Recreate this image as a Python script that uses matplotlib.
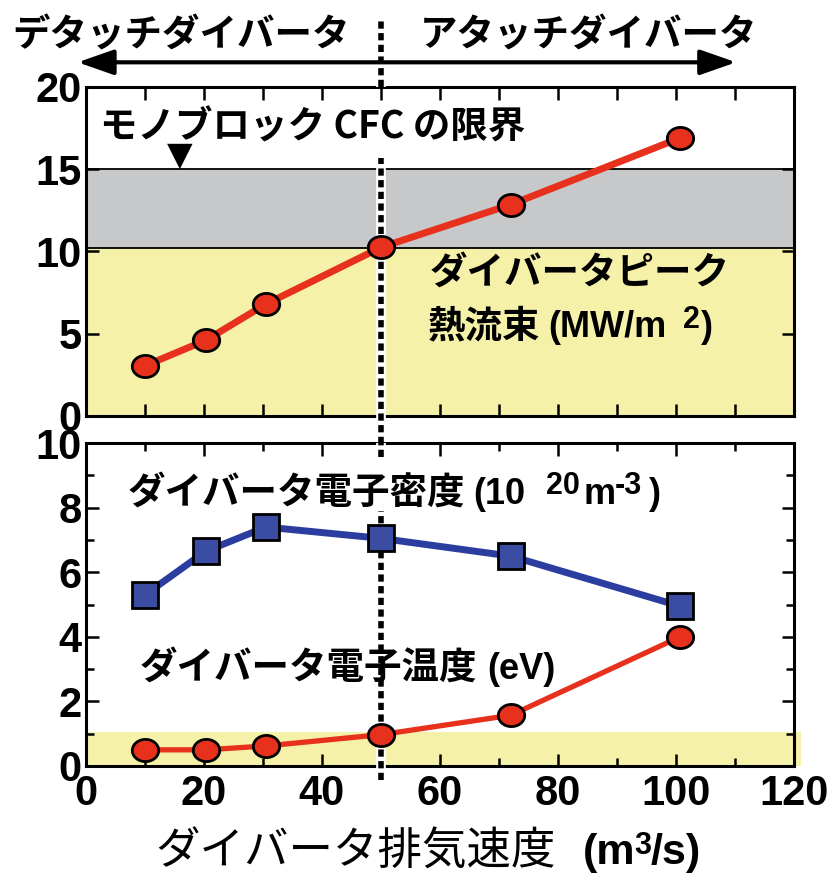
import matplotlib
matplotlib.use("Agg")
import matplotlib.pyplot as plt
from matplotlib.path import Path
from matplotlib.ticker import MultipleLocator
import numpy as np

# pumping speed (m3/s) and the three measured quantities
pump_speed = [10, 20.3, 30.5, 50, 72, 100.7]
peak_heat_flux = [3.05, 4.6, 6.8, 10.25, 12.85, 16.9]      # MW/m2
electron_density = [5.3, 6.65, 7.4, 7.05, 6.5, 4.95]        # 1e20 m-3
electron_temp = [0.5, 0.5, 0.62, 0.97, 1.57, 4.0]           # eV

cfc_limit = [10.2, 15]      # gray band, MW/m2
temp_band = 1.05            # yellow band in lower panel
boundary = 50               # detach / attach boundary

plt.rcParams['font.family'] = ['Noto Sans CJK JP', 'DejaVu Sans']

RED = '#E8311D'
BLUE_LINE = '#2B3EA0'
BLUE_FACE = '#3A4DA3'
YELLOW = '#F5F1A8'
GRAY = '#C7C8CA'

jp = dict(family=['Noto Sans CJK JP'], fontweight='bold', fontsize=27)
lat = dict(family=['Liberation Sans'], fontweight='bold', fontsize=26)
sup = dict(family=['Liberation Sans'], fontweight='bold', fontsize=22)

# slightly flattened circle like the original markers
t = np.linspace(0, 2 * np.pi, 60)
oval = Path(np.column_stack([np.cos(t), 0.84 * np.sin(t)]), closed=True)

fig = plt.figure(figsize=(8.29, 8.75), dpi=100)
ax1 = fig.add_axes([0.1037, 0.5246, 0.854, 0.376])
ax2 = fig.add_axes([0.1037, 0.1246, 0.854, 0.369])


def style(ax):
    for s in ax.spines.values():
        s.set_linewidth(2.2)
    ax.tick_params(which='both', direction='in', width=1.8, top=True, right=True)
    ax.tick_params(which='major', length=9)
    ax.tick_params(which='minor', length=6)
    for lab in ax.get_xticklabels() + ax.get_yticklabels():
        lab.set_family(['Liberation Sans'])
        lab.set_fontweight('bold')
        lab.set_fontsize(30)


def hatch_line(ax, y0, y1):
    tr = ax.get_xaxis_transform()
    ax.plot([boundary, boundary], [y0, y1], transform=tr, color='white', lw=7,
            clip_on=False, zorder=3, solid_capstyle='butt')
    ax.plot([boundary, boundary], [y0, y1], transform=tr, color='black', lw=4,
            ls=(0, (1.3, 0.8)), clip_on=False, zorder=3)


# ---- upper panel: peak heat flux
ax1.axhspan(0, cfc_limit[0], color=YELLOW, zorder=0, lw=0)
ax1.axhspan(cfc_limit[0], cfc_limit[1], color=GRAY, zorder=0, lw=0)
for yl in cfc_limit:
    ax1.axhline(yl, color='black', lw=1.3, zorder=1)
hatch_line(ax1, -0.085, 0.784)
hatch_line(ax1, 1.0, 1.21)
ax1.plot(pump_speed, peak_heat_flux, color=RED, lw=5, zorder=4)
ax1.plot(pump_speed, peak_heat_flux, ls='none', marker=oval, ms=19, mfc=RED,
         mec='black', mew=2, zorder=5)
ax1.set_xlim(0, 120)
ax1.set_ylim(0, 20)
ax1.xaxis.set_major_locator(MultipleLocator(10))
ax1.yaxis.set_major_locator(MultipleLocator(5))
ax1.tick_params(axis='x', labelbottom=False)
ax1.tick_params(axis='y', right=False, pad=3)
style(ax1)

ax1.text(2.4, 16.84, 'モノブロック CFC の限界', va='baseline', **jp)
ax1.text(15.9, 15.85, '▼', ha='center', va='center', fontsize=24,
         family=['DejaVu Sans'])
ax1.text(58.3, 8.02, 'ダイバータピーク', va='baseline', **jp)
ax1.text(58.0, 4.80, '熱流束', va='baseline', **jp)
ax1.text(78.3, 4.80, '(MW/m', va='baseline', **lat)
ax1.text(101.2, 5.35, '2', va='baseline', **sup)
ax1.text(104.3, 4.80, ')', va='baseline', **lat)

# detach / attach header with double arrow
ax1.text(-12.5, 22.43, 'デタッチダイバータ', va='baseline', clip_on=False, **jp)
ax1.text(56.6, 22.43, 'アタッチダイバータ', va='baseline', clip_on=False, **jp)
ax1.annotate('', xy=(-1.4, 21.5), xytext=(110.2, 21.5), annotation_clip=False,
             arrowprops=dict(arrowstyle='<|-|>,head_length=1.0,head_width=0.35',
                             mutation_scale=22, lw=3, color='black',
                             shrinkA=0, shrinkB=0))

# ---- lower panel: divertor density and temperature
ax2.axhspan(0, temp_band, xmax=1.01, color=YELLOW, zorder=0, lw=0, clip_on=False)
hatch_line(ax2, 0.957, 1.0)
hatch_line(ax2, -0.043, 0.79)
ax2.plot(pump_speed, electron_density, color=BLUE_LINE, lw=5, zorder=4)
ax2.plot(pump_speed, electron_density, ls='none', marker='s', ms=19, mfc=BLUE_FACE,
         mec='black', mew=2, zorder=5)
ax2.plot(pump_speed, electron_temp, color=RED, lw=3.8, zorder=4)
ax2.plot(pump_speed, electron_temp, ls='none', marker=oval, ms=19, mfc=RED,
         mec='black', mew=2, zorder=5)
ax2.set_xlim(0, 120)
ax2.set_ylim(0, 10)
ax2.xaxis.set_major_locator(MultipleLocator(20))
ax2.xaxis.set_minor_locator(MultipleLocator(10))
ax2.yaxis.set_major_locator(MultipleLocator(2))
ax2.yaxis.set_minor_locator(MultipleLocator(1))
ax2.tick_params(axis='y', pad=3)
ax2.tick_params(axis='x', pad=6)
style(ax2)

ax2.text(7.1, 8.11, 'ダイバータ電子密度', va='baseline', **jp)
ax2.text(65.6, 8.11, '(10', va='baseline', **lat)
ax2.text(78.0, 8.42, '20', va='baseline', **sup)
ax2.text(84.4, 8.11, 'm', va='baseline', **lat)
ax2.text(89.6, 8.42, '-3', va='baseline', **sup)
ax2.text(95.4, 8.11, ')', va='baseline', **lat)
ax2.text(9.15, 2.69, 'ダイバータ電子温度', va='baseline', **jp)
ax2.text(68.1, 2.69, '(eV)', va='baseline', **lat)

# x axis title
ax2.text(11.7, -3.05, 'ダイバータ排気速度', va='baseline', clip_on=False,
         family=['Noto Sans CJK JP'], fontsize=32)
ax2.text(84.2, -3.05, '(m', va='baseline', clip_on=False,
         family=['Liberation Sans'], fontweight='bold', fontsize=31)
ax2.text(92.9, -2.72, '3', va='baseline', clip_on=False,
         family=['Liberation Sans'], fontweight='bold', fontsize=22)
ax2.text(95.7, -3.05, '/s)', va='baseline', clip_on=False,
         family=['Liberation Sans'], fontweight='bold', fontsize=31)

fig.savefig('out.png', dpi=100)
